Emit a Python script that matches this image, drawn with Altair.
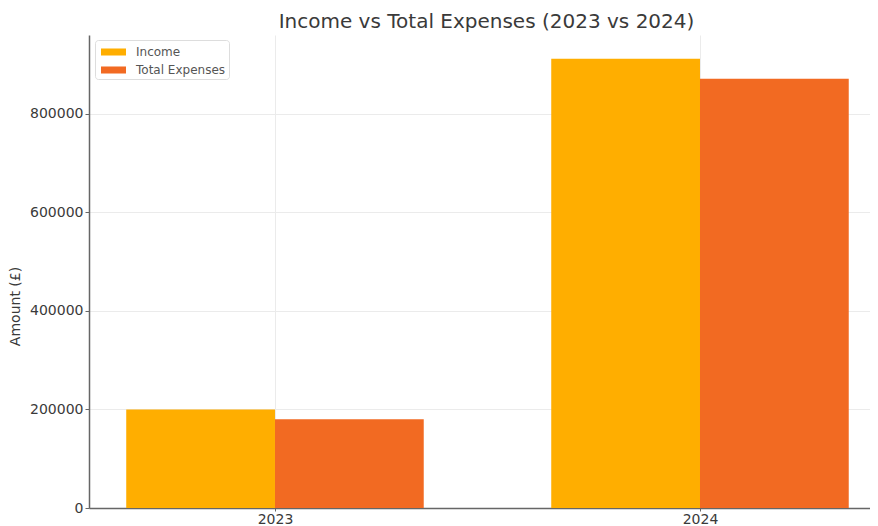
import altair as alt
import pandas as pd

years = [2023, 2024]
income = [200000, 912000]
expenses = [180000, 871000]
series = ["Income", "Total Expenses"]
colors = ["#FFAE00", "#F26A22"]

rows = []
for y, inc, exp in zip(years, income, expenses):
    rows.append({"year": y, "series": "Income", "amount": inc, "off0": -0.35, "off1": 0.0})
    rows.append({"year": y, "series": "Total Expenses", "amount": exp, "off0": 0.0, "off1": 0.35})
df = pd.DataFrame(rows)

font = "DejaVu Sans"
txt = "#3a3a3a"

bars = alt.Chart(df).transform_calculate(
    xs="datum.year + datum.off0", xe="datum.year + datum.off1"
).mark_bar(opacity=1, orient="vertical").encode(
    x=alt.X("xs:Q", scale=alt.Scale(domain=[2022.5624, 2024.4], nice=False, zero=False, padding=0),
            axis=alt.Axis(values=years, format="d", title=None, grid=True, gridColor="#ebebeb",
                          labelFontSize=14, labelColor=txt, domainColor="#666", domainWidth=1.5,
                          tickColor="#666", tickSize=3, labelPadding=1, labelFont=font)),
    x2="xe:Q",
    y=alt.Y("amount:Q", scale=alt.Scale(domain=[0, 960000], nice=False),
            axis=alt.Axis(values=[0, 200000, 400000, 600000, 800000], format="d",
                          title="Amount (£)", titleFontSize=14, titleFontWeight="normal",
                          titleColor=txt, titleFont=font, titleX=-74, titleY=271,
                          titleAlign="center", titleBaseline="middle", titleAngle=270,
                          grid=True, gridColor="#ebebeb", labelFontSize=14, labelColor=txt,
                          labelFont=font, domainColor="#666", domainWidth=1.5,
                          tickColor="#666", tickSize=4, labelPadding=2)),
    y2=alt.datum(0),
    color=alt.Color("series:N", scale=alt.Scale(domain=series, range=colors),
                    legend=alt.Legend(title=None, orient="none", legendX=6, legendY=5,
                                      symbolType="M-1.39,-0.39H1.39V0.39H-1.39Z", symbolSize=324,
                                      symbolOffset=6.5, symbolStrokeWidth=0,
                                      labelOffset=13.5,
                                      labelFontSize=12, labelColor="#555", labelFont=font,
                                      strokeColor="#dddddd", fillColor="white", padding=3,
                                      cornerRadius=3, rowPadding=3)),
)

chart = bars.properties(
    width=781, height=473,
    title=alt.Title("Income vs Total Expenses (2023 vs 2024)", fontSize=20, fontWeight="normal",
                    color=txt, font=font, offset=3, dx=7),
    autosize=alt.AutoSizeParams(type="none"),
    padding={"left": 81, "top": 27, "right": 0, "bottom": 18},
).configure_view(stroke=None)

chart.save("out.html", embed_options={"renderer": "svg", "actions": False})
